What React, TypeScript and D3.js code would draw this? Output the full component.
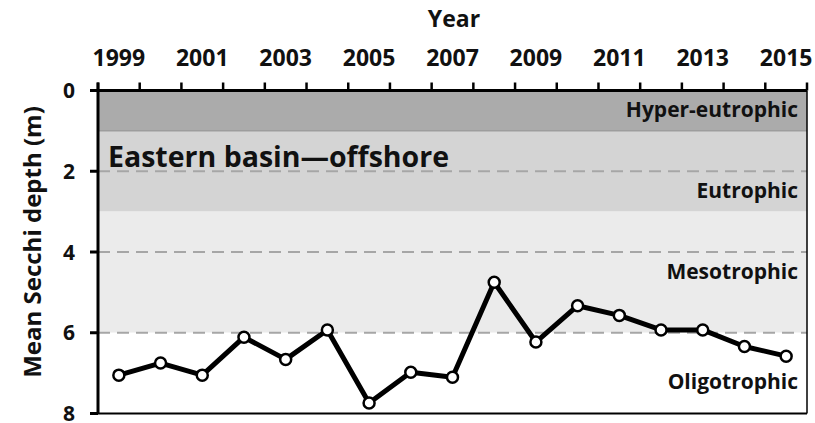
import React from "react";
import * as d3 from "d3";

const years = ["1999","2000","2001","2002","2003","2004","2005","2006","2007","2008","2009","2010","2011","2012","2013","2014","2015"];
const secchi = [7.05, 6.75, 7.05, 6.11, 6.66, 5.93, 7.74, 6.98, 7.1, 4.75, 6.23, 5.33, 5.57, 5.93, 5.93, 6.34, 6.58];
const yTicks = [0, 2, 4, 6, 8];
const dashedLevels = [2, 4, 6];
const bands = [
  { from: 0, to: 1, fill: "#ababab" },
  { from: 1, to: 3, fill: "#d4d4d4" },
  { from: 3, to: 6, fill: "#ebebeb" },
  { from: 6, to: 8, fill: "#ffffff" },
];
const bandLabels = [
  { text: "Hyper-eutrophic", depth: 0.45 },
  { text: "Eutrophic", depth: 2.47 },
  { text: "Mesotrophic", depth: 4.48 },
  { text: "Oligotrophic", depth: 7.2 },
];
const title = "Eastern basin\u2014offshore";

const W = 815, H = 423;
const m = { left: 98, right: 807, top: 90.5, bottom: 413.5 };
const FONT = "'Open Sans', Lato, sans-serif";

export default function App() {
  const x = d3.scaleBand<string>().domain(years).range([m.left, m.right]).padding(0);
  const y = d3.scaleLinear().domain([0, 8]).range([m.top, m.bottom]);
  const line = d3.line<number>()
    .x((_, i) => (x(years[i]) as number) + x.bandwidth() / 2)
    .y((d) => y(d));
  const tickXs = years.map((yr) => x(yr) as number).concat([m.right]);

  return (
    <svg width={W} height={H} style={{ position: "absolute", left: 0, top: 0, background: "#fff" }} fontFamily={FONT} fontWeight={700}>
      {bands.map((b, i) => (
        <rect key={i} x={m.left} y={y(b.from)} width={m.right - m.left} height={y(b.to) - y(b.from)} fill={b.fill} />
      ))}
      <line x1={m.left} x2={m.right} y1={y(1)} y2={y(1)} stroke="#8c8c8c" strokeWidth={1} />
      {dashedLevels.map((d) => (
        <line key={d} x1={m.left} x2={m.right} y1={y(d)} y2={y(d)} stroke="#a6a6a6" strokeWidth={2} strokeDasharray="12,7" />
      ))}
      {bandLabels.map((b) => (
        <text key={b.text} x={798} y={y(b.depth)} textAnchor="end" dominantBaseline="central" fontSize={21} fill="#111">{b.text}</text>
      ))}
      <text x={108} y={y(1.95) - 2} fontSize={28.5} fill="#111">{title}</text>
      {/* border */}
      <line x1={m.right} x2={m.right} y1={m.top} y2={m.bottom} stroke="#000" strokeWidth={1.5} />
      <line x1={m.left} x2={m.right} y1={m.bottom} y2={m.bottom} stroke="#000" strokeWidth={2} />
      {/* top axis */}
      <line x1={m.left - 8} x2={m.right} y1={m.top} y2={m.top} stroke="#000" strokeWidth={3} />
      {tickXs.map((tx, i) => (
        <line key={i} x1={tx} x2={tx} y1={m.top - 8} y2={m.top} stroke="#000" strokeWidth={2.5} />
      ))}
      {years.map((yr, i) => i % 2 === 0 ? (
        <text key={yr} x={(x(yr) as number) + x.bandwidth() / 2} y={56.5} textAnchor="middle" dominantBaseline="central" fontSize={23} fill="#111">{yr}</text>
      ) : null)}
      <text x={454} y={18} textAnchor="middle" dominantBaseline="central" fontSize={23} fill="#111">Year</text>
      {/* left axis */}
      <line x1={m.left} x2={m.left} y1={m.top - 8} y2={m.bottom} stroke="#000" strokeWidth={3} />
      {yTicks.map((t) => (
        <g key={t}>
          <line x1={m.left - 8} x2={m.left} y1={y(t)} y2={y(t)} stroke="#000" strokeWidth={3} />
          <text x={75} y={y(t) - 0.5} textAnchor="end" dominantBaseline="central" fontSize={21} fill="#111">{t}</text>
        </g>
      ))}
      <text transform={`translate(31,${242}) rotate(-90)`} textAnchor="middle" dominantBaseline="central" fontSize={24} fill="#111">Mean Secchi depth (m)</text>
      {/* series */}
      <path d={line(secchi) || ""} fill="none" stroke="#000" strokeWidth={5} strokeLinejoin="round" />
      {secchi.map((d, i) => (
        <circle key={i} cx={(x(years[i]) as number) + x.bandwidth() / 2} cy={y(d)} r={5.5} fill="#fff" stroke="#000" strokeWidth={2.5} />
      ))}
    </svg>
  );
}
